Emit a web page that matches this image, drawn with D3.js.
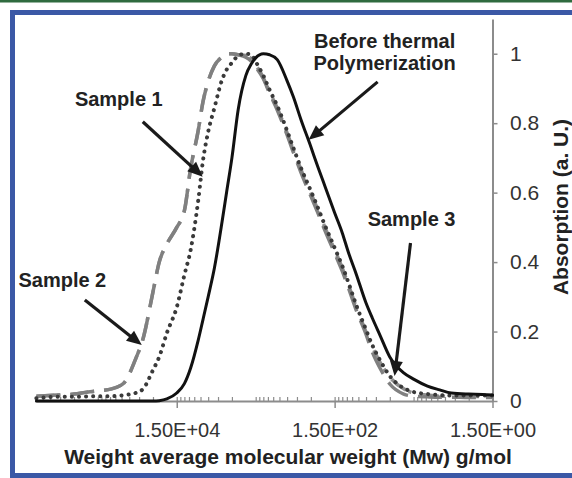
<!DOCTYPE html>
<html>
<head>
<meta charset="utf-8">
<script src="https://cdn.jsdelivr.net/npm/d3@7"></script>
<style>
  body { margin: 0; background: #fff; }
  svg { display: block; font-family: "Liberation Sans", Arial, sans-serif; }
</style>
</head>
<body>
<div id="chart"></div>
<script>
// molecular weight grid (g/mol), high to low as the axis runs left to right
const mw = [9e5, 5e5, 3e5, 2e5, 1.5e5, 1e5, 7e4, 5e4, 4e4, 3e4, 2.5e4, 2e4, 1.5e4, 1.2e4, 1e4,
  8e3, 7e3, 6e3, 5e3, 4e3, 3.5e3, 3e3, 2.5e3, 2e3, 1.7e3, 1.5e3, 1.2e3, 1e3, 800, 600, 500,
  400, 300, 250, 200, 150, 120, 100, 80, 60, 50, 40, 30, 20, 15, 10, 7, 5, 3, 2, 1.5];

const beforeThermal = [0, 0, 0, 0, 0, 0, 0, 0, 0, 0, 0.001, 0.006, 0.023, 0.050, 0.095,
  0.176, 0.233, 0.300, 0.383, 0.516, 0.602, 0.700, 0.839, 0.937, 0.971, 0.988, 1.0, 0.997, 0.983, 0.922, 0.876,
  0.810, 0.732, 0.680, 0.620, 0.542, 0.484, 0.427, 0.366, 0.282, 0.239, 0.190, 0.127, 0.081, 0.063, 0.043, 0.032, 0.023, 0.020, 0.019, 0.017];

const sample1 = [0.008, 0.012, 0.012, 0.013, 0.014, 0.014, 0.017, 0.023, 0.035, 0.089, 0.127, 0.196, 0.270, 0.363, 0.435,
  0.579, 0.690, 0.775, 0.844, 0.925, 0.954, 0.974, 0.994, 1.0, 0.997, 0.977, 0.937, 0.896, 0.850, 0.778, 0.729,
  0.671, 0.605, 0.562, 0.507, 0.441, 0.389, 0.340, 0.277, 0.205, 0.161, 0.118, 0.072, 0.037, 0.026, 0.020, 0.017, 0.016, 0.016, 0.016, 0.016];

const sample2 = [0.014, 0.017, 0.020, 0.026, 0.029, 0.035, 0.052, 0.120, 0.180, 0.314, 0.400, 0.452, 0.500, 0.548, 0.670,
  0.780, 0.860, 0.920, 0.965, 0.991, 1.0, 1.0, 0.997, 0.990, 0.978, 0.962, 0.928, 0.886, 0.838, 0.766, 0.716,
  0.658, 0.590, 0.547, 0.492, 0.426, 0.374, 0.325, 0.262, 0.192, 0.141, 0.095, 0.049, 0.020, 0.014, 0.012, 0.011, 0.011, 0.010, 0.010, 0.010];

const sample3 = [0.014, 0.017, 0.020, 0.026, 0.029, 0.035, 0.052, 0.120, 0.180, 0.314, 0.400, 0.452, 0.500, 0.548, 0.670,
  0.780, 0.860, 0.920, 0.965, 0.991, 1.0, 1.0, 0.997, 0.995, 0.985, 0.968, 0.931, 0.890, 0.844, 0.772, 0.723,
  0.666, 0.599, 0.556, 0.501, 0.435, 0.383, 0.334, 0.271, 0.199, 0.156, 0.112, 0.069, 0.035, 0.023, 0.017, 0.014, 0.014, 0.013, 0.013, 0.012];

const xTicks = [1.5e4, 1.5e2, 1.5];
const yTicks = [0, 0.2, 0.4, 0.6, 0.8, 1];

// callouts, placed in data units: label anchor, arrow start, arrow tip
const callouts = [
  { lines: ["Sample 1"], at: [8.13e4, 0.850], from: [4.04e4, 0.804], to: [7.03e3, 0.646] },
  { lines: ["Sample 2"], at: [4.22e5, 0.329], from: [2.19e5, 0.291], to: [4.16e4, 0.161] },
  { lines: ["Before thermal", "Polymerization"], at: [34.9, 1.017], from: [42.8, 0.919], to: [320, 0.752] },
  { lines: ["Sample 3"], at: [15.9, 0.504], from: [16.4, 0.455], to: [26.1, 0.072] }
];

const W = 572, H = 478;
const svg = d3.select("#chart").append("svg").attr("width", W).attr("height", H);

// page decorations: green rule on top, blue frame
svg.append("rect").attr("x", 0).attr("y", 0).attr("width", W).attr("height", 2.5).attr("fill", "#2f6b3f");
svg.append("rect").attr("x", 10).attr("y", 10).attr("width", W - 10).attr("height", 5).attr("fill", "#3b58a6");
svg.append("rect").attr("x", 10).attr("y", 10).attr("width", 5).attr("height", H - 10).attr("fill", "#3b58a6");
svg.append("rect").attr("x", 10).attr("y", 473).attr("width", W - 10).attr("height", 5).attr("fill", "#3b58a6");

const x = d3.scaleLog().domain([9.1e5, 1.5]).range([36, 492.5]);
const y = d3.scaleLinear().domain([0, 1.1]).range([401, 19]);

const fmtE = v => v.toExponential(2).toUpperCase()
  .replace(/E([+-])(\d+)$/, (m, s, d) => "E" + s + d.padStart(2, "0"));

const axisCol = "#8c8c8c";

// minor ticks above the x axis
const minor = [];
for (let n = 0; n <= 5; n++) for (let k = 1; k <= 9; k++) {
  const v = 1.5 * k * Math.pow(10, n);
  if (v <= 9.1e5 && v >= 1.5) minor.push(v);
}
svg.append("g").attr("transform", `translate(0,${y(0)})`)
  .call(d3.axisTop(x).tickValues(minor).tickSize(4).tickFormat(""))
  .call(g => g.select(".domain").remove())
  .call(g => g.selectAll("line").attr("stroke", axisCol).attr("stroke-width", 1.2));

const gx = svg.append("g").attr("transform", `translate(0,${y(0)})`)
  .call(d3.axisBottom(x).tickValues(xTicks).tickFormat(fmtE).tickSize(7).tickSizeOuter(0));
gx.select(".domain").attr("stroke", axisCol).attr("stroke-width", 2);
gx.selectAll("line").attr("stroke", axisCol).attr("stroke-width", 1.5);
gx.selectAll("text").attr("y", 35.5).attr("dy", null)
  .attr("font-size", 20).attr("fill", "#333").attr("font-family", null);

const gy = svg.append("g").attr("transform", `translate(${x(1.5)},0)`)
  .call(d3.axisRight(y).tickValues(yTicks).tickFormat(d3.format("~g")).tickSize(5).tickSizeOuter(0));
gy.select(".domain").attr("stroke", axisCol).attr("stroke-width", 2);
gy.selectAll("line").attr("stroke", axisCol).attr("stroke-width", 1.5);
gy.selectAll("text").attr("x", 17.5).attr("font-size", 21).attr("fill", "#333").attr("font-family", null);

// axis titles
svg.append("text").attr("x", 288).attr("y", 464).attr("text-anchor", "middle")
  .attr("font-size", 21).attr("font-weight", "bold").attr("fill", "#222")
  .text("Weight average molecular weight (Mw) g/mol");
svg.append("text").attr("transform", "translate(568,207) rotate(-90)").attr("text-anchor", "middle")
  .attr("font-size", 21).attr("font-weight", "bold").attr("fill", "#222")
  .text("Absorption (a. U.)");

// curves (sample 2 and 3 share a dash period so they line up where they overlap)
const line = d3.line().x((d, i) => x(mw[i])).y(d => y(d)).curve(d3.curveMonotoneX);
const series = [
  { vals: sample3, stroke: "#8f8f8f", width: 3.5, dash: "18 3 3 10", cap: "butt" },
  { vals: sample2, stroke: "#808080", width: 3.5, dash: "24 10", cap: "butt" },
  { vals: sample1, stroke: "#3a3a3a", width: 4, dash: "0.1 7", cap: "round" },
  { vals: beforeThermal, stroke: "#111", width: 3, dash: null, cap: "round" }
];
svg.append("g").selectAll("path").data(series).join("path")
  .attr("d", s => line(s.vals))
  .attr("fill", "none")
  .attr("stroke", s => s.stroke)
  .attr("stroke-width", s => s.width)
  .attr("stroke-dasharray", s => s.dash)
  .attr("stroke-linecap", s => s.cap)
  .attr("stroke-linejoin", "round");

// callout arrows and labels
const gn = svg.append("g");
callouts.forEach(c => {
  const x0 = x(c.from[0]), y0 = y(c.from[1]);
  const x1 = x(c.to[0]), y1 = y(c.to[1]);
  const a = Math.atan2(y1 - y0, x1 - x0);
  const len = 15, half = 6.5;
  const bx = x1 - len * Math.cos(a), by = y1 - len * Math.sin(a);
  gn.append("line").attr("x1", x0).attr("y1", y0)
    .attr("x2", bx + 3 * Math.cos(a)).attr("y2", by + 3 * Math.sin(a))
    .attr("stroke", "#1a1a1a").attr("stroke-width", 3.2);
  gn.append("path")
    .attr("d", `M${x1},${y1}L${bx - half * Math.sin(a)},${by + half * Math.cos(a)}L${bx + half * Math.sin(a)},${by - half * Math.cos(a)}Z`)
    .attr("fill", "#1a1a1a");
  const t = gn.append("text").attr("x", x(c.at[0])).attr("y", y(c.at[1]))
    .attr("text-anchor", "middle").attr("font-size", 20).attr("font-weight", "bold").attr("fill", "#222");
  c.lines.forEach((l, i) => t.append("tspan").attr("x", x(c.at[0])).attr("dy", i ? 22 : 0).text(l));
});
</script>
</body>
</html>
